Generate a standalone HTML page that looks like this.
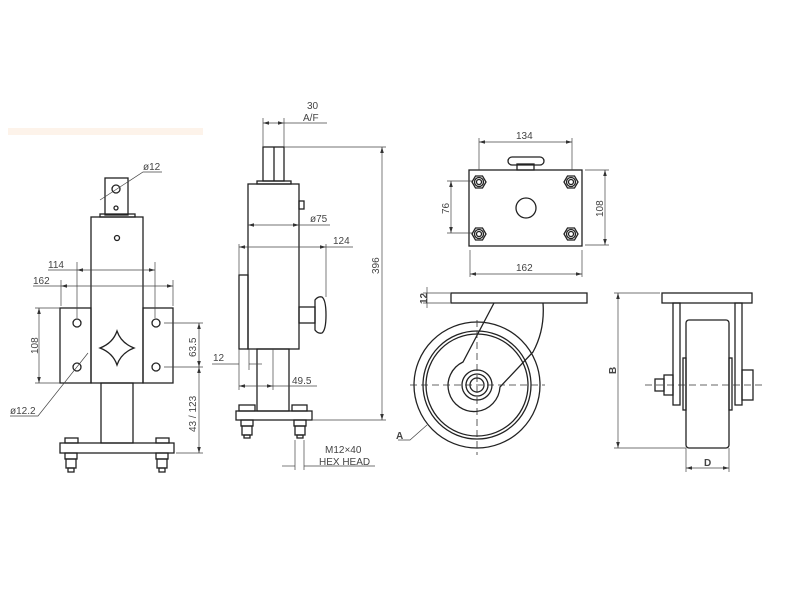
<!DOCTYPE html>
<html><head><meta charset="utf-8"><style>
html,body{margin:0;padding:0;background:#fff;}
svg{display:block;}
text{font-family:"Liberation Sans",sans-serif;font-size:10px;fill:#444;}
</style></head><body>
<svg width="800" height="600" viewBox="0 0 800 600" xmlns="http://www.w3.org/2000/svg">
<defs>
<marker id="a" viewBox="0 0 10 10" refX="10" refY="5" markerWidth="6" markerHeight="6" orient="auto-start-reverse" markerUnits="userSpaceOnUse"><path d="M0 2 L10 5 L0 8Z" fill="#333"/></marker>
</defs>
<rect x="0" y="0" width="800" height="600" fill="#fff"/>
<rect x="8" y="128" width="195" height="7" fill="#fdf3ea"/>
<g fill="none" stroke="#222" stroke-width="1.3">
<!-- LEFT VIEW -->
<rect x="105" y="178" width="23" height="37"/>
<rect x="100" y="214" width="35" height="3"/>
<circle cx="116" cy="189" r="4"/>
<circle cx="116" cy="208" r="2"/>
<rect x="91" y="217" width="52" height="166"/>
<circle cx="117" cy="238" r="2.5"/>
<rect x="60" y="308" width="31" height="75"/>
<rect x="143" y="308" width="30" height="75"/>
<circle cx="77" cy="323" r="4"/><circle cx="77" cy="367" r="4"/>
<circle cx="156" cy="323" r="4"/><circle cx="156" cy="367" r="4"/>
<path d="M117 331 Q121 343 134 348 Q121 353 117 365 Q113 353 100 348 Q113 343 117 331Z"/>
<rect x="101" y="383" width="32" height="60"/>
<rect x="60" y="443" width="114" height="10"/>
<rect x="65" y="438" width="13" height="5"/><rect x="156" y="438" width="13" height="5"/>
<rect x="65" y="453" width="12" height="6"/><rect x="66" y="459" width="10" height="9"/><rect x="68" y="468" width="6" height="4"/>
<rect x="156" y="453" width="12" height="6"/><rect x="157" y="459" width="10" height="9"/><rect x="159" y="468" width="6" height="4"/>
<!-- MIDDLE VIEW -->
<rect x="263" y="147" width="21" height="34"/>
<line x1="274" y1="147" x2="274" y2="181"/>
<rect x="257" y="181" width="34" height="3"/>
<rect x="248" y="184" width="51" height="165"/>
<rect x="239" y="275" width="9" height="74"/>
<rect x="299" y="201" width="5" height="8"/>
<rect x="299" y="307" width="16" height="16"/>
<path d="M315 300 Q318 296 322 297 Q326 300 326 315 Q326 330 322 333 Q318 334 315 330 Z"/>
<rect x="257" y="349" width="32" height="62"/>
<rect x="236" y="411" width="76" height="9"/>
<rect x="239" y="405" width="16" height="6"/><rect x="292" y="405" width="15" height="6"/>
<rect x="241" y="420" width="12" height="6"/><rect x="242" y="426" width="10" height="9"/><rect x="244" y="435" width="6" height="3"/>
<rect x="294" y="420" width="12" height="6"/><rect x="295" y="426" width="10" height="9"/><rect x="297" y="435" width="6" height="3"/>
<!-- TOP RIGHT VIEW -->
<rect x="469" y="170" width="113" height="76"/>
<rect x="517" y="164" width="17" height="6"/>
<rect x="508" y="157" width="36" height="8" rx="4"/>
<circle cx="526" cy="208" r="10"/>
<g id="b"><polygon points="472,182 475.5,176 482.5,176 486,182 482.5,188 475.5,188"/><circle cx="479" cy="182" r="4.5"/><circle cx="479" cy="182" r="2.5"/></g>
<use href="#b" x="92"/><use href="#b" y="52"/><use href="#b" x="92" y="52"/>
<!-- WHEEL SIDE -->
<rect x="451" y="293" width="136" height="10"/>
<circle cx="477" cy="385" r="63"/>
<circle cx="477" cy="385" r="54"/>
<circle cx="477" cy="385" r="51"/>
<path d="M494 303 L463 362 A26 26 0 1 0 500 387 L533 352 Q545 330 543 303"/>
<circle cx="477" cy="385" r="15"/>
<circle cx="477" cy="385" r="11"/>
<circle cx="477" cy="385" r="7"/>
<!-- FRONT VIEW -->
<rect x="662" y="293" width="90" height="10"/>
<rect x="673" y="303" width="7" height="102"/>
<rect x="735" y="303" width="7" height="102"/>
<rect x="686" y="320" width="43" height="128" rx="3"/>
<rect x="683" y="358" width="3" height="52"/><rect x="729" y="358" width="3" height="52"/>
<rect x="664" y="375" width="9" height="20"/><rect x="655" y="379" width="9" height="12"/>
<rect x="742" y="370" width="11" height="30"/>
</g>
<g stroke="#333" stroke-width="0.8" fill="none" stroke-dasharray="7,4">
<line x1="410" y1="385" x2="545" y2="385"/>
<line x1="477" y1="320" x2="477" y2="455"/>
<line x1="645" y1="385" x2="762" y2="385"/>
</g>
<g stroke="#444" stroke-width="0.7" fill="none">
<!-- extension / leaders -->
<line x1="77" y1="262" x2="77" y2="318"/><line x1="155" y1="262" x2="155" y2="318"/>
<line x1="61" y1="280" x2="61" y2="306"/><line x1="173" y1="280" x2="173" y2="306"/>
<line x1="35" y1="308" x2="60" y2="308"/><line x1="35" y1="383" x2="60" y2="383"/>
<line x1="164" y1="323" x2="203" y2="323"/><line x1="164" y1="367" x2="203" y2="367"/><line x1="176" y1="453" x2="203" y2="453"/>
<line x1="48" y1="270" x2="77" y2="270"/><line x1="33" y1="286" x2="61" y2="286"/>
<polyline points="10,416 38,416 88,353"/>
<polyline points="100,200 143,172 162,172"/>
<line x1="284" y1="123" x2="327" y2="123"/>
<line x1="263" y1="118" x2="263" y2="147"/><line x1="284" y1="118" x2="284" y2="147"/>
<line x1="284" y1="147" x2="386" y2="147"/><line x1="312" y1="420" x2="386" y2="420"/>
<line x1="299" y1="225" x2="330" y2="225"/>
<line x1="326" y1="247" x2="353" y2="247"/><line x1="239" y1="244" x2="239" y2="275"/><line x1="326" y1="244" x2="326" y2="297"/>
<line x1="212" y1="364" x2="239" y2="364"/><line x1="249" y1="364" x2="262" y2="364"/>
<line x1="239" y1="349" x2="239" y2="390"/><line x1="249" y1="349" x2="249" y2="370"/>
<line x1="273" y1="386" x2="317" y2="386"/><line x1="273" y1="349" x2="273" y2="390"/>
<line x1="282" y1="466" x2="295" y2="466"/><line x1="304" y1="466" x2="375" y2="466"/>
<line x1="295" y1="440" x2="295" y2="470"/><line x1="304" y1="440" x2="304" y2="470"/>
<line x1="479" y1="138" x2="479" y2="170"/><line x1="572" y1="138" x2="572" y2="170"/>
<line x1="585" y1="170" x2="609" y2="170"/><line x1="585" y1="245" x2="609" y2="245"/>
<line x1="447" y1="181" x2="472" y2="181"/><line x1="447" y1="233" x2="472" y2="233"/>
<line x1="470" y1="250" x2="470" y2="277"/><line x1="582" y1="250" x2="582" y2="277"/>
<line x1="423" y1="293" x2="450" y2="293"/><line x1="423" y1="303" x2="450" y2="303"/>
<line x1="427" y1="287" x2="427" y2="308"/>
<polyline points="398,440 410,440 427,425"/>
<line x1="614" y1="293" x2="660" y2="293"/><line x1="614" y1="448" x2="686" y2="448"/>
<line x1="686" y1="448" x2="686" y2="472"/><line x1="729" y1="448" x2="729" y2="472"/>
</g>
<g stroke="#444" stroke-width="0.7" fill="none" marker-start="url(#a)" marker-end="url(#a)">
<line x1="77" y1="270" x2="155" y2="270"/>
<line x1="61" y1="286" x2="173" y2="286"/>
<line x1="39" y1="308" x2="39" y2="383"/>
<line x1="199" y1="323" x2="199" y2="367"/>
<line x1="199" y1="367" x2="199" y2="453"/>
<line x1="263" y1="123" x2="284" y2="123"/>
<line x1="382" y1="147" x2="382" y2="420"/>
<line x1="248" y1="225" x2="299" y2="225"/>
<line x1="239" y1="247" x2="326" y2="247"/>
<line x1="239" y1="386" x2="273" y2="386"/>
<line x1="479" y1="142" x2="572" y2="142"/>
<line x1="605" y1="170" x2="605" y2="245"/>
<line x1="451" y1="181" x2="451" y2="233"/>
<line x1="470" y1="274" x2="582" y2="274"/>
<line x1="618" y1="293" x2="618" y2="448"/>
<line x1="686" y1="468" x2="729" y2="468"/>
</g>
<g font-size="10">
<text x="48" y="268">114</text>
<text x="33" y="284">162</text>
<text x="143" y="170">ø12</text>
<text x="10" y="414">ø12.2</text>
<text transform="translate(38,354) rotate(-90)">108</text>
<text transform="translate(196,357) rotate(-90)">63.5</text>
<text transform="translate(196,432) rotate(-90)">43 / 123</text>
<text x="307" y="109">30</text>
<text x="303" y="121">A/F</text>
<text transform="translate(379,274) rotate(-90)">396</text>
<text x="310" y="222">ø75</text>
<text x="333" y="244">124</text>
<text x="213" y="361">12</text>
<text x="292" y="384">49.5</text>
<text x="325" y="453">M12×40</text>
<text x="319" y="465">HEX HEAD</text>
<text x="516" y="139">134</text>
<text transform="translate(603,217) rotate(-90)">108</text>
<text transform="translate(449,214) rotate(-90)">76</text>
<text x="516" y="271">162</text>
<text transform="translate(427,304) rotate(-90)" font-size="8" style="font-weight:bold">12</text>
<text x="396" y="439" font-size="8" style="font-weight:bold">A</text>
<text transform="translate(616,374) rotate(-90)" font-size="8" style="font-weight:bold">B</text>
<text x="704" y="466" font-size="8" style="font-weight:bold">D</text>
</g>
</svg>
</body></html>
